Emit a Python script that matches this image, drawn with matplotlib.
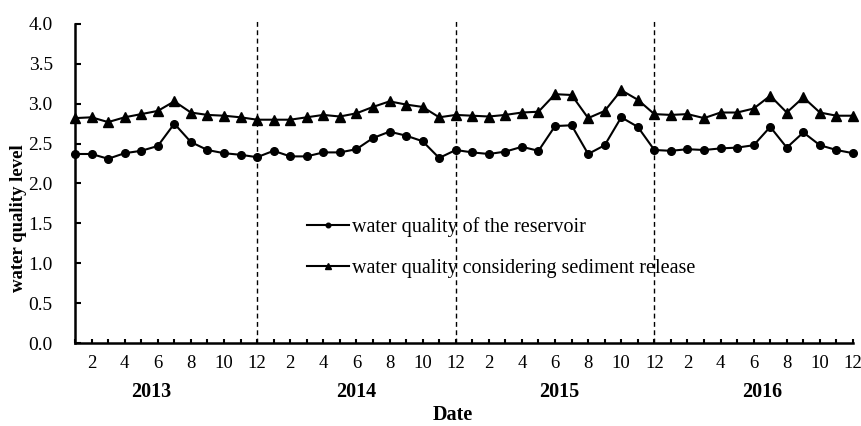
import numpy as np
import matplotlib
matplotlib.use('Agg')
import matplotlib.pyplot as plt

plt.rcParams['font.family'] = ['Liberation Serif', 'DejaVu Serif']

# monthly values, Jan 2013 .. Dec 2016
reservoir = [2.37, 2.37, 2.31, 2.38, 2.41, 2.47, 2.75, 2.52, 2.42, 2.38, 2.36, 2.33,
             2.41, 2.34, 2.34, 2.39, 2.39, 2.43, 2.57, 2.65, 2.60, 2.53, 2.32, 2.42,
             2.39, 2.37, 2.40, 2.46, 2.41, 2.72, 2.73, 2.37, 2.48, 2.83, 2.71, 2.42,
             2.41, 2.43, 2.42, 2.44, 2.45, 2.48, 2.71, 2.45, 2.64, 2.48, 2.42, 2.38]
sediment = [2.82, 2.83, 2.77, 2.83, 2.87, 2.91, 3.03, 2.89, 2.86, 2.85, 2.83, 2.80,
            2.80, 2.80, 2.83, 2.86, 2.84, 2.88, 2.96, 3.03, 2.99, 2.96, 2.83, 2.86,
            2.85, 2.84, 2.86, 2.89, 2.90, 3.12, 3.11, 2.82, 2.91, 3.17, 3.05, 2.87,
            2.86, 2.87, 2.82, 2.89, 2.89, 2.94, 3.10, 2.89, 3.08, 2.89, 2.85, 2.85]
years = ['2013', '2014', '2015', '2016']
month_labels = ['', '2', '', '4', '', '6', '', '8', '', '10', '', '12']

months = np.arange(1, len(reservoir) + 1)

W, H = 861, 426
fig = plt.figure(figsize=(W / 100, H / 100), dpi=100)
ax = fig.add_axes([75 / W, 83 / H, 778 / W, 319 / H])

ax.plot(months, reservoir, color='black', lw=1.5, marker='o', ms=5.5,
        label='water quality of the reservoir', clip_on=False, zorder=3)
ax.plot(months, sediment, color='black', lw=1.5, marker='^', ms=6.5,
        label='water quality considering sediment release', clip_on=False, zorder=3)

# year separators
for k in range(1, len(years)):
    ax.plot([12 * k, 12 * k], [0, 4.04], color='black', lw=1, ls=(0, (3.5, 2.5)),
            clip_on=False, zorder=4)

ax.set_xlim(1, 48)
ax.set_ylim(0, 4.0)
ax.set_yticks(np.arange(0, 4.01, 0.5))
ax.set_yticklabels(['%.1f' % v for v in np.arange(0, 4.01, 0.5)], fontsize=14)
ax.set_xticks(months)
ax.set_xticklabels(month_labels * len(years), fontsize=13.5)

for s in ['top', 'right']:
    ax.spines[s].set_visible(False)
for s in ['left', 'bottom']:
    ax.spines[s].set_linewidth(1.8)

ax.tick_params(axis='y', direction='in', length=4, width=1.5, pad=16)
ax.tick_params(axis='x', direction='in', length=3, width=1.5, pad=9)

# year labels under the month labels
year_pos = [151, 356, 559, 762]
for x, yr in zip(year_pos, years):
    fig.text(x / W, 1 - 392 / H, yr, ha='center', va='center', fontsize=14.5,
             fontweight='bold')

fig.text(453 / W, 1 / H, 'Date', ha='center', va='bottom', fontsize=14.5,
         fontweight='bold')
fig.text(19 / W, 1 - 218 / H, 'water quality level', ha='center', va='center',
         rotation=90, fontsize=13.5, fontweight='bold')

ax.legend(loc='center left', bbox_to_anchor=(0.298, 0.30), frameon=False,
          fontsize=14.5, handlelength=2.1, handletextpad=0.15, labelspacing=1.1,
          markerscale=0.6, borderpad=0, borderaxespad=0)

fig.savefig('out.png', dpi=100)
